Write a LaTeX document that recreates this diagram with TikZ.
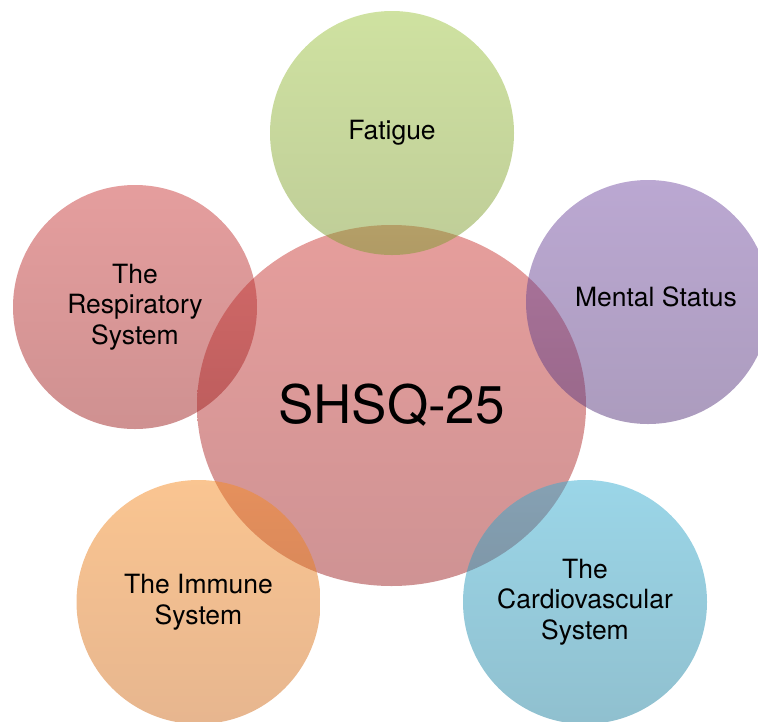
\documentclass[tikz,border=0pt]{standalone}
\usepackage{fontspec}
\setmainfont{TeX Gyre Heros}
\usetikzlibrary{shapes.geometric}
\definecolor{centretop}{RGB}{205,61,57}
\definecolor{centrebot}{RGB}{159,39,41}
\definecolor{fatiguetop}{RGB}{159,197,67}
\definecolor{fatiguebot}{RGB}{127,155,49}
\definecolor{mentaltop}{RGB}{119,81,165}
\definecolor{mentalbot}{RGB}{89,57,125}
\definecolor{resptop}{RGB}{203,61,61}
\definecolor{respbot}{RGB}{159,35,35}
\definecolor{immunetop}{RGB}{245,139,35}
\definecolor{immunebot}{RGB}{207,109,31}
\definecolor{cardiotop}{RGB}{55,173,209}
\definecolor{cardiobot}{RGB}{33,129,159}
\begin{document}
\begin{tikzpicture}[x=1pt,y=-1pt,
    blob/.style={circle, minimum size=244pt, inner sep=0pt, fill opacity=0.5, text opacity=1, align=center, text=black, font=\fontsize{26.5}{30.7}\selectfont},
    label/.style={text=black, align=center, font=\fontsize{26.5}{30.7}\selectfont}]
    \useasboundingbox (0,0) rectangle (758,721);
    \clip (0,0) rectangle (758,721);
    \node[blob, ellipse, minimum width=389pt, minimum height=361pt, top color=centretop, bottom color=centrebot, font=\fontsize{53}{60}\selectfont] (shsq) at (391.5,405.5) {SHSQ-25};
    \node[blob, top color=fatiguetop, bottom color=fatiguebot] (fatigue) at (392,133) {Fatigue};
    \node[blob, top color=mentaltop, bottom color=mentalbot] (mental) at (648,302) {};
    \node[label] (mentaltext) at (656,297) {Mental Status};
    \node[blob, top color=resptop, bottom color=respbot] (resp) at (135,307) {The\\Respiratory\\System};
    \node[blob, top color=immunetop, bottom color=immunebot] (immune) at (198.5,602) {The Immune\\System};
    \node[blob, top color=cardiotop, bottom color=cardiobot] (cardio) at (585,602) {The\\Cardiovascular\\System};
\end{tikzpicture}
\end{document}
